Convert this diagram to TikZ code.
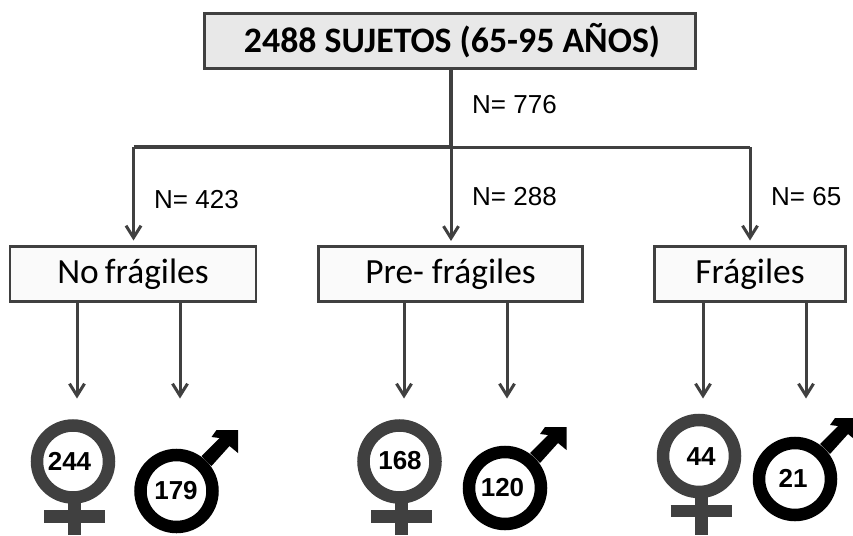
\documentclass[tikz,border=0pt]{standalone}
\usepackage{fontspec}
\setmainfont{Carlito}
\newfontfamily\arialf{Liberation Sans}
\usetikzlibrary{arrows.meta}
\definecolor{dk}{HTML}{404040}
\tikzset{
 x=1pt,y=-1pt,
 topbox/.style={draw=dk,line width=3.4pt,fill=black!9,minimum width=491pt,minimum height=55pt,inner sep=0pt,text=black,font=\fontsize{35.8}{38}\selectfont\bfseries},
 groupbox/.style={draw=dk,line width=2.6pt,fill=black!2,minimum height=55.5pt,inner sep=0pt,text=black,font=\fontsize{35.4}{38}\selectfont},
 trunk/.style={draw=dk,line width=3.8pt},
 branch/.style={draw=dk,line width=3pt,-{Straight Barb[length=12pt,width=15pt,line width=3pt]}},
 nlabel/.style={font=\arialf\fontsize{26}{28}\selectfont,inner sep=0pt,text=black},
 venus/.style={draw=dk,line width=12.5pt},
 mars/.style={draw=black,line width=12.5pt},
 count/.style={font=\arialf\bfseries\fontsize{26}{28}\selectfont,inner sep=0pt,text=black},
}
% venus: circle x, circle y, stem x, text, label x, label y
\newcommand{\venussym}[6]{%
 \draw[venus] (#1,#2) circle[radius=36];
 \draw[venus,line width=13pt] (#3,#2+40) -- (#3,535);
 \draw[venus,line width=12.5pt] (#3-30.5,#2+55) -- (#3+30.5,#2+55);
 \node[count] (v#4) at (#5,#6) {#4};
}
\newcommand{\marssym}[5]{%
 \draw[mars] (#1,#2) circle[radius=36];
 \fill[black] (#1+25,#2-35) -- (#1+43,#2-53) -- (#1+35,#2-54) -- (#1+40,#2-61)
   -- (#1+61.5,#2-61) -- (#1+61.5,#2-38) -- (#1+53,#2-45) -- (#1+35,#2-25)
   -- cycle;
 \node[count] (m#3) at (#4,#5) {#3};
}
\begin{document}
\begin{tikzpicture}
\useasboundingbox (0,0) rectangle (853,535);
\node[topbox] (top) at (450,41) {\hspace{4pt}\raisebox{-1pt}{2488 SUJETOS (65-95 AÑOS)}};
\node[groupbox,minimum width=246pt] (nf) at (133,274) {\raisebox{-2pt}{No\hspace{-2pt} frágiles}};
\node[groupbox,minimum width=264pt] (pf) at (450.5,274) {\raisebox{-2pt}{Pre- frágiles}};
\node[groupbox,minimum width=191pt] (fr) at (750,274) {\raisebox{-2pt}{Frágiles}};
\coordinate (hub) at (451,147);
\coordinate (hl) at (133.5,147);
\coordinate (hr) at (750,147);
\coordinate (tl) at (133.5,240.5);
\coordinate (tm) at (451,241);
\coordinate (tr) at (750,240.5);
\draw[trunk] (top.south -| hub) -- (hub);
\draw[trunk] (hl) -- (hub);
\draw[trunk,line width=3pt] (hub) -- (hr);
\draw[branch] (hl) -- (tl);
\draw[branch] (hub) -- (tm);
\draw[branch] (hr) -- (tr);
\node[nlabel,anchor=west] (n0) at (472,105) {N= 776};
\node[nlabel,anchor=west] (n1) at (154,199.5) {N= 423};
\node[nlabel,anchor=west] (n2) at (472,197) {N= 288};
\node[nlabel,anchor=west] (n3) at (771,197) {N= 65};
\coordinate (a1) at (77,398.5); \coordinate (a2) at (180,398.5);
\coordinate (a3) at (404,398.5); \coordinate (a4) at (507,398.5);
\coordinate (a5) at (703,398.5); \coordinate (a6) at (806,398.5);
\foreach \p/\b in {a1/nf,a2/nf,a3/pf,a4/pf,a5/fr,a6/fr}
  \draw[branch] (\p |- \b.south) -- (\p);
\venussym{73}{461.5}{74.5}{244}{69.5}{461}
\marssym{176.5}{491}{179}{176}{491}
\venussym{399.5}{461.5}{401.5}{168}{400}{461}
\marssym{505}{488}{120}{502.5}{488}
\venussym{699}{456}{701}{44}{701}{457}
\marssym{795}{479}{21}{793}{478}
\end{tikzpicture}
\end{document}
